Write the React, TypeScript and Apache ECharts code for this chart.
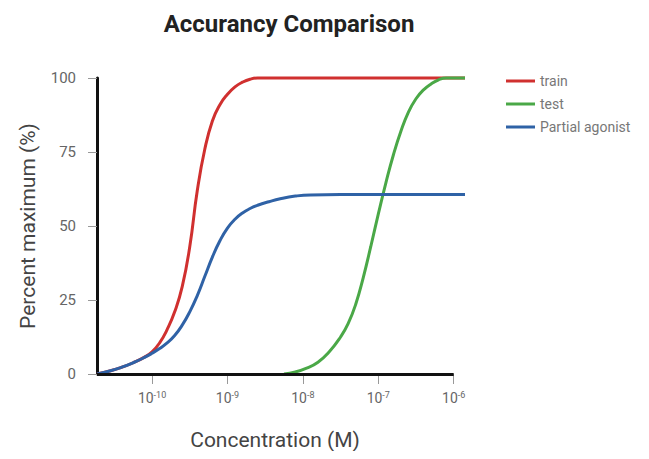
import React, { useEffect, useRef } from "react";
import * as echarts from "echarts";

const seriesNames = ["train", "test", "Partial agonist"];
const seriesColors = ["#d0302f", "#4aa847", "#2f62a6"];

// x = log10(concentration in M), y = percent maximum
const trainData: number[][] = [
  [-10.73, 0], [-10.55, 1.1], [-10.4, 2.3], [-10.25, 3.8], [-10.1, 5.7], [-10.0, 7.5],
  [-9.9, 10.5], [-9.8, 15], [-9.7, 21], [-9.6, 29.5], [-9.5, 43], [-9.4, 62],
  [-9.3, 76], [-9.2, 85.5], [-9.1, 91], [-9.0, 94.5], [-8.9, 97], [-8.8, 98.6],
  [-8.7, 99.6], [-8.6, 100], [-8.4, 100], [-8, 100], [-7, 100], [-6, 100], [-5.85, 100],
];
const testData: number[][] = [
  [-8.25, 0], [-8.1, 0.7], [-7.95, 2], [-7.8, 4], [-7.65, 7.5], [-7.5, 12.5],
  [-7.4, 17], [-7.3, 23.5], [-7.2, 32.5], [-7.1, 43], [-7.0, 54], [-6.9, 64.5],
  [-6.8, 74], [-6.7, 82], [-6.6, 88.5], [-6.5, 93], [-6.4, 96], [-6.3, 98],
  [-6.2, 99.4], [-6.1, 100], [-6.0, 100], [-5.85, 100],
];
const partialData: number[][] = [
  [-10.73, 0], [-10.55, 1.1], [-10.4, 2.3], [-10.25, 3.8], [-10.1, 5.6], [-10.0, 7],
  [-9.9, 8.6], [-9.8, 10.5], [-9.7, 13], [-9.6, 16.5], [-9.5, 21], [-9.4, 26.5],
  [-9.3, 33], [-9.2, 39.5], [-9.1, 45], [-9.0, 49.3], [-8.9, 52.3], [-8.8, 54.4],
  [-8.7, 55.9], [-8.6, 57], [-8.45, 58.2], [-8.3, 59.2], [-8.1, 60.1], [-7.9, 60.5],
  [-7.5, 60.6], [-7, 60.6], [-6.5, 60.6], [-5.85, 60.6],
];
const xTickValues = [-10, -9, -8, -7, -6];

export default function App() {
  const ref = useRef<HTMLDivElement>(null);
  useEffect(() => {
    if (!ref.current) return;
    const chart = echarts.init(ref.current, null, { renderer: "svg" });
    const font = "Roboto, 'Noto Sans', sans-serif";
    const datasets = [trainData, testData, partialData];
    chart.setOption({
      animation: false,
      textStyle: { fontFamily: font },
      title: {
        text: "Accurancy Comparison",
        left: 284,
        textAlign: "center",
        top: 7,
        textStyle: { fontSize: 24, fontWeight: "bold", color: "#222", fontFamily: font },
      },
      legend: {
        orient: "vertical",
        left: 501,
        top: 69,
        itemGap: 9,
        icon: "rect",
        itemWidth: 29,
        itemHeight: 3,
        textStyle: { fontSize: 14, color: "#777", fontFamily: font },
        data: seriesNames,
      },
      grid: { left: 97, right: 184, top: 78, bottom: 85 },
      xAxis: {
        type: "value",
        min: -10.73,
        max: -5.85,
        name: "Concentration (M)",
        nameLocation: "middle",
        nameGap: 55,
        nameTextStyle: { fontSize: 21, color: "#444", fontFamily: font, padding: [0, 12, 0, 0] },
        axisLine: { show: false },
        axisTick: {
          show: true,
          customValues: xTickValues,
          length: 10,
          lineStyle: { color: "#999", width: 1 },
        },
        axisLabel: {
          customValues: xTickValues,
          margin: 16,
          formatter: (v: number) => `{b|10}{s|${Math.round(v)}}`,
          rich: {
            b: { fontSize: 14, color: "#666", fontFamily: font },
            s: { fontSize: 9, color: "#666", fontFamily: font, padding: [0, 0, 7, 0] },
          },
        },
        splitLine: { show: false },
      },
      yAxis: {
        type: "value",
        min: 0,
        max: 100,
        interval: 25,
        name: "Percent maximum (%)",
        nameLocation: "middle",
        nameGap: 59,
        nameTextStyle: { fontSize: 21, color: "#444", fontFamily: font },
        axisLine: { show: true, lineStyle: { color: "#111", width: 3 } },
        axisTick: { show: true, length: 9, lineStyle: { color: "#999", width: 1 } },
        axisLabel: { margin: 21, fontSize: 15, color: "#666", fontFamily: font },
        splitLine: { show: false },
      },
      series: seriesNames.map((name, i) => ({
        name,
        type: "line",
        data: datasets[i],
        smooth: 0.5,
        showSymbol: false,
        symbol: "none",
        clip: false,
        lineStyle: { color: seriesColors[i], width: 3 },
        itemStyle: { color: seriesColors[i] },
        z: 3,
        markLine:
          i === 0
            ? {
                silent: true,
                symbol: "none",
                label: { show: false },
                lineStyle: { color: "#111", width: 3, type: "solid" },
                data: [[{ coord: [-10.73, 0] }, { coord: [-6, 0] }]],
                z: 5,
              }
            : undefined,
      })),
    });
    return () => chart.dispose();
  }, []);
  return <div ref={ref} style={{ width: 649, height: 459, margin: -8 }} />;
}
